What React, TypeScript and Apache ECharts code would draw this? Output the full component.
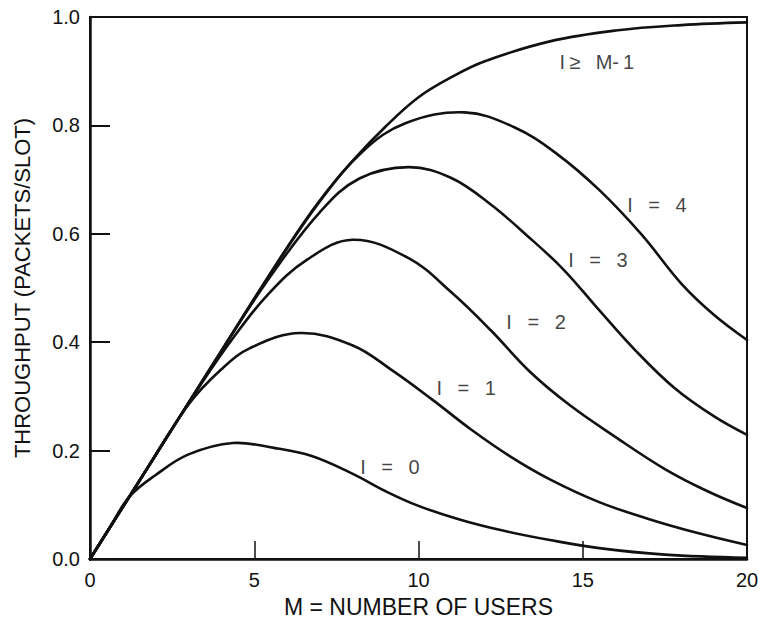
import React, { useEffect, useRef } from "react";
import * as echarts from "echarts";

// Throughput (packets/slot) against number of users M.
// Each curve has its own M positions (picked at peaks and bends).
const mAll = [0, 2, 4, 6, 7, 8, 9, 10, 11, 12, 14, 16, 18, 20];
const capAll = [0, 0.192, 0.384, 0.575, 0.662, 0.735, 0.798, 0.852, 0.889, 0.918, 0.955, 0.975, 0.985, 0.99];

const mI4 = [0, 2, 4, 5.5, 7, 8.3, 9.6, 11.4, 12.9, 14.2, 15.5, 16.8, 18, 19, 20];
const capI4 = [0, 0.192, 0.384, 0.527, 0.66, 0.752, 0.804, 0.824, 0.797, 0.748, 0.681, 0.598, 0.508, 0.45, 0.404];

const mI3 = [0, 2, 4, 5.5, 7, 8.2, 9.7, 11, 12.2, 13.3, 14.4, 15.5, 16.6, 17.8, 19, 20];
const capI3 = [0, 0.192, 0.384, 0.522, 0.64, 0.702, 0.723, 0.703, 0.654, 0.597, 0.535, 0.459, 0.385, 0.315, 0.263, 0.229];

const mI2 = [0, 2, 3.2, 4.3, 5.4, 6.6, 8, 9.7, 11, 12.2, 13.4, 14.6, 16, 17.5, 18.8, 20];
const capI2 = [0, 0.192, 0.306, 0.403, 0.487, 0.552, 0.589, 0.555, 0.492, 0.422, 0.345, 0.284, 0.225, 0.166, 0.125, 0.094];

const mI1 = [0, 1.5, 3, 4, 4.9, 6.4, 8, 9.2, 10.4, 11.6, 12.8, 14, 15.5, 17, 18.5, 20];
const capI1 = [0, 0.144, 0.285, 0.35, 0.39, 0.417, 0.394, 0.348, 0.295, 0.239, 0.189, 0.147, 0.105, 0.074, 0.048, 0.026];

const mI0 = [0, 0.6, 1.2, 2, 3, 4.35, 5.6, 6.75, 8, 9, 10, 11.3, 12.6, 14, 15.5, 17.5, 20];
const capI0 = [0, 0.058, 0.115, 0.155, 0.193, 0.214, 0.205, 0.19, 0.157, 0.125, 0.098, 0.072, 0.052, 0.035, 0.02, 0.008, 0.002];

const curves: [number[], number[]][] = [
  [mAll, capAll],
  [mI4, capI4],
  [mI3, capI3],
  [mI2, capI2],
  [mI1, capI1],
  [mI0, capI0],
];

// Curve labels and where they sit (data coordinates)
const SP = "\u2002\u00A0";
const labelTexts = [
  "I\u2009\u2265\u2002\u00A0M-\u20091",
  `I${SP}=${SP}4`,
  `I${SP}=${SP}3`,
  `I${SP}=${SP}2`,
  `I${SP}=${SP}1`,
  `I${SP}=${SP}0`,
];
const labelM = [15.43, 17.26, 15.46, 13.58, 11.45, 9.13];
const labelT = [0.917, 0.653, 0.552, 0.437, 0.315, 0.17];

// Axis ticks
const xTicks = [0, 5, 10, 15, 20];
const yTicks = [0, 0.2, 0.4, 0.6, 0.8, 1.0];

const FONT = "Liberation Sans, Arial, Helvetica, sans-serif";
const INK = "#111";

export default function App() {
  const ref = useRef<HTMLDivElement>(null);
  useEffect(() => {
    document.body.style.margin = "0";
    if (!ref.current) return;
    const chart = echarts.init(ref.current, undefined, { renderer: "svg" });
    chart.setOption({
      animation: false,
      backgroundColor: "#fff",
      grid: {
        left: 90,
        right: 18,
        top: 17,
        bottom: 72,
        show: true,
        borderColor: INK,
        borderWidth: 2,
      },
      xAxis: {
        type: "value",
        min: xTicks[0],
        max: xTicks[xTicks.length - 1],
        interval: 5,
        name: "M = NUMBER OF USERS",
        nameLocation: "middle",
        nameGap: 36,
        nameTextStyle: { fontFamily: FONT, fontSize: 23, color: INK },
        axisLine: { show: true, lineStyle: { color: INK, width: 2.5 } },
        axisTick: { show: true, inside: true, length: 18, lineStyle: { color: INK, width: 1.5 } },
        axisLabel: { fontFamily: FONT, fontSize: 20, color: INK, margin: 11 },
        splitLine: { show: false },
      },
      yAxis: {
        type: "value",
        min: yTicks[0],
        max: yTicks[yTicks.length - 1],
        interval: 0.2,
        name: "THROUGHPUT (PACKETS/SLOT)",
        nameLocation: "middle",
        nameGap: 57,
        nameRotate: 90,
        nameTextStyle: { fontFamily: FONT, fontSize: 22, color: INK },
        axisLine: { show: true, lineStyle: { color: INK, width: 2.5 } },
        axisTick: { show: true, inside: true, length: 20, lineStyle: { color: INK, width: 2 } },
        axisLabel: {
          fontFamily: FONT,
          fontSize: 20,
          color: INK,
          margin: 10,
          formatter: (v: number) => v.toFixed(1),
        },
        splitLine: { show: false },
      },
      series: [
        {
          type: "custom",
          coordinateSystem: "cartesian2d",
          silent: true,
          data: curves.map((_, i) => [i, 0]),
          renderItem: (params: any, api: any) => {
            const [ms, vs] = curves[params.dataIndex];
            const pts = ms.map((m, i) => api.coord([m, vs[i]]));
            return {
              type: "polyline",
              shape: { points: pts, smooth: 0.38 },
              style: { stroke: INK, lineWidth: 2.6, fill: null, lineJoin: "round", lineCap: "round" },
            };
          },
          z: 3,
        },
        {
          type: "scatter",
          symbolSize: 0,
          silent: true,
          data: labelTexts.map((t, i) => ({ value: [labelM[i], labelT[i]], name: t })),
          label: {
            show: true,
            position: "inside",
            formatter: (p: any) => p.name,
            fontFamily: FONT,
            fontSize: 20,
            color: INK,
          },
          z: 4,
        },
      ],
    });
    return () => chart.dispose();
  }, []);
  return <div ref={ref} style={{ width: 765, height: 631 }} />;
}
